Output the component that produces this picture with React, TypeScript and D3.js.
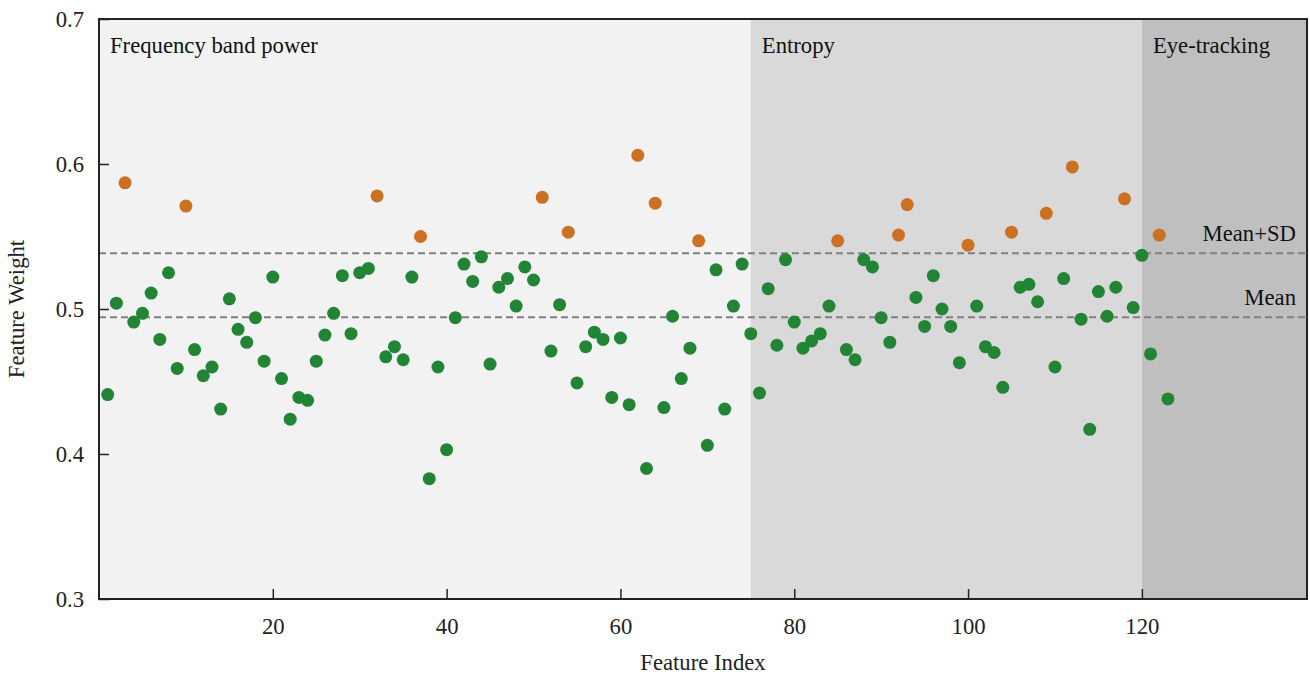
import React, { useEffect, useRef } from 'react';
import * as d3 from 'd3';

// feature weights, index 1..123
const weights = [
  0.441, 0.504, 0.587, 0.491, 0.497, 0.511, 0.479, 0.525, 0.459, 0.571,
  0.472, 0.454, 0.46, 0.431, 0.507, 0.486, 0.477, 0.494, 0.464, 0.522,
  0.452, 0.424, 0.439, 0.437, 0.464, 0.482, 0.497, 0.523, 0.483, 0.525,
  0.528, 0.578, 0.467, 0.474, 0.465, 0.522, 0.55, 0.383, 0.46, 0.403,
  0.494, 0.531, 0.519, 0.536, 0.462, 0.515, 0.521, 0.502, 0.529, 0.52,
  0.577, 0.471, 0.503, 0.553, 0.449, 0.474, 0.484, 0.479, 0.439, 0.48,
  0.434, 0.606, 0.39, 0.573, 0.432, 0.495, 0.452, 0.473, 0.547, 0.406,
  0.527, 0.431, 0.502, 0.531, 0.483, 0.442, 0.514, 0.475, 0.534, 0.491,
  0.473, 0.478, 0.483, 0.502, 0.547, 0.472, 0.465, 0.534, 0.529, 0.494,
  0.477, 0.551, 0.572, 0.508, 0.488, 0.523, 0.5, 0.488, 0.463, 0.544,
  0.502, 0.474, 0.47, 0.446, 0.553, 0.515, 0.517, 0.505, 0.566, 0.46,
  0.521, 0.598, 0.493, 0.417, 0.512, 0.495, 0.515, 0.576, 0.501, 0.537,
  0.469, 0.551, 0.438,
];

const regions = [
  { name: 'Frequency band power', start: 0, end: 75, fill: '#f2f2f2' },
  { name: 'Entropy', start: 75, end: 120, fill: '#d9d9d9' },
  { name: 'Eye-tracking', start: 120, end: 139, fill: '#bfbfbf' },
];

const meanValue = 0.4943;
const meanSdValue = 0.5384;
const xTicks = [20, 40, 60, 80, 100, 120];
const yTicks = [0.3, 0.4, 0.5, 0.6, 0.7];

const App = () => {
  const ref = useRef(null);

  useEffect(() => {
    const width = 1310;
    const height = 681;
    const m = { l: 99, t: 19, r: 3, b: 82 };
    const pw = width - m.l - m.r;
    const ph = height - m.t - m.b;
    const font = '"Liberation Serif", "Times New Roman", serif';
    const fs = 22.7;

    const x = d3.scaleLinear().domain([0, 139]).range([0, pw]);
    const y = d3.scaleLinear().domain([0.3, 0.7]).range([ph, 0]);

    const svg = d3.select(ref.current);
    svg.selectAll('*').remove();
    svg.attr('width', width).attr('height', height);

    const g = svg.append('g').attr('transform', `translate(${m.l},${m.t})`);

    g.selectAll('.region')
      .data(regions)
      .join('rect')
      .attr('class', 'region')
      .attr('x', d => x(d.start))
      .attr('y', 0)
      .attr('width', d => x(d.end) - x(d.start))
      .attr('height', ph)
      .attr('fill', d => d.fill);

    g.selectAll('.region-label')
      .data(regions)
      .join('text')
      .attr('class', 'region-label')
      .attr('x', d => x(d.start) + 11)
      .attr('y', 34)
      .attr('font-family', font)
      .attr('font-size', fs)
      .attr('fill', '#111')
      .text(d => d.name);

    const refLines = [
      { v: meanSdValue, label: 'Mean+SD' },
      { v: meanValue, label: 'Mean' },
    ];
    g.selectAll('.ref-line')
      .data(refLines)
      .join('line')
      .attr('class', 'ref-line')
      .attr('x1', 0)
      .attr('x2', pw)
      .attr('y1', d => y(d.v))
      .attr('y2', d => y(d.v))
      .attr('stroke', '#808080')
      .attr('stroke-width', 2)
      .attr('stroke-dasharray', '7,4');
    g.selectAll('.ref-label')
      .data(refLines)
      .join('text')
      .attr('class', 'ref-label')
      .attr('x', pw - 11)
      .attr('y', d => y(d.v) - 12)
      .attr('text-anchor', 'end')
      .attr('font-family', font)
      .attr('font-size', fs)
      .attr('fill', '#111')
      .text(d => d.label);

    g.selectAll('.dot')
      .data(weights)
      .join('circle')
      .attr('class', 'dot')
      .attr('cx', (d, i) => x(i + 1))
      .attr('cy', d => y(d))
      .attr('r', 6.5)
      .attr('fill', d => (d > meanSdValue ? '#cc7022' : '#228536'));

    const xAxis = d3.axisBottom(x).tickValues(xTicks).tickSizeInner(-10).tickSizeOuter(0).tickPadding(19);
    const yAxis = d3.axisLeft(y).tickValues(yTicks).tickSizeInner(-10).tickSizeOuter(0).tickPadding(15)
      .tickFormat(d3.format('.1f'));

    const xg = g.append('g').attr('transform', `translate(0,${ph})`).call(xAxis);
    const yg = g.append('g').call(yAxis);
    [xg, yg].forEach(a => {
      a.select('.domain').remove();
      a.selectAll('line').attr('stroke', '#222').attr('stroke-width', 1.5);
      a.selectAll('text').attr('font-family', font).attr('font-size', fs).attr('fill', '#222');
    });

    g.append('rect')
      .attr('x', 0)
      .attr('y', 0)
      .attr('width', pw)
      .attr('height', ph)
      .attr('fill', 'none')
      .attr('stroke', '#222')
      .attr('stroke-width', 2);

    svg.append('text')
      .attr('x', m.l + pw / 2)
      .attr('y', 670)
      .attr('text-anchor', 'middle')
      .attr('font-family', font)
      .attr('font-size', fs)
      .attr('fill', '#222')
      .text('Feature Index');

    svg.append('text')
      .attr('transform', `translate(24,${m.t + ph / 2}) rotate(-90)`)
      .attr('text-anchor', 'middle')
      .attr('font-family', font)
      .attr('font-size', fs)
      .attr('fill', '#222')
      .text('Feature Weight');
  }, []);

  return (
    <svg ref={ref} style={{ position: 'absolute', left: 0, top: 0, background: '#fff' }}></svg>
  );
};

export default App;
